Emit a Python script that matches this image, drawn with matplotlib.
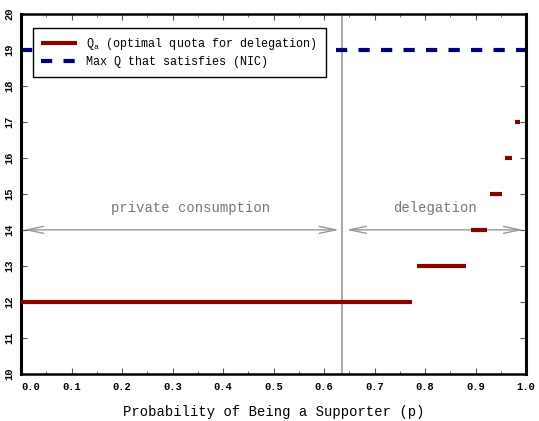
import matplotlib.pyplot as plt
from matplotlib.ticker import MultipleLocator, FixedLocator

plt.rcParams["font.family"] = ["Liberation Mono", "DejaVu Sans Mono"]

# optimal quota steps: (p_start, p_end, quota)
step_start = [0.0, 0.785, 0.890, 0.929, 0.958, 0.979]
step_end = [0.774, 0.882, 0.923, 0.952, 0.972, 0.988]
step_quota = [12, 13, 14, 15, 16, 17]

nic_max_q = 19
p_threshold = 0.636
arrow_y = 14
region_labels = ["private consumption", "delegation"]
region_label_x = [0.335, 0.82]
x_ticks = [0.0, 0.1, 0.2, 0.3, 0.4, 0.5, 0.6, 0.7, 0.8, 0.9, 1.0]
y_ticks = [10, 11, 12, 13, 14, 15, 16, 17, 18, 19, 20]

fig = plt.figure(figsize=(5.39, 4.21), dpi=100)
ax = fig.add_axes([0.039, 0.112, 0.937, 0.855])

red = "#8b0000"
blue = "#00007f"

for i, (a, b, q) in enumerate(zip(step_start, step_end, step_quota)):
    ax.plot([a, b], [q, q], color=red, lw=3, solid_capstyle="butt", zorder=3,
            label=r"Q$_\mathregular{a}$ (optimal quota for delegation)" if i == 0 else None)

ax.plot([0, 1], [nic_max_q, nic_max_q], color=blue, lw=3, dashes=(2.7, 2.7),
        label="Max Q that satisfies (NIC)", zorder=2)

ax.axvline(p_threshold, color="#999999", lw=1.2, zorder=1)

grey = "#999999"
ax.annotate("", xy=(0.005, arrow_y), xytext=(p_threshold - 0.006, arrow_y),
            arrowprops=dict(arrowstyle="<->,head_length=1.2,head_width=0.25",
                            color=grey, lw=1, shrinkA=0, shrinkB=0), zorder=1)
ax.annotate("", xy=(p_threshold + 0.008, arrow_y), xytext=(0.995, arrow_y),
            arrowprops=dict(arrowstyle="<->,head_length=1.2,head_width=0.25",
                            color=grey, lw=1, shrinkA=0, shrinkB=0), zorder=1)
for lx, txt in zip(region_label_x, region_labels):
    ax.text(lx, 14.6, txt, color="#777777", fontsize=10, ha="center", va="center")

ax.set_xlim(0, 1)
ax.set_ylim(10, 20)
ax.xaxis.set_major_locator(FixedLocator(x_ticks))
ax.xaxis.set_minor_locator(MultipleLocator(0.05))
ax.yaxis.set_major_locator(FixedLocator(y_ticks))
ax.tick_params(axis="both", which="both", direction="in", top=True, right=True,
               color="#555555")
ax.tick_params(axis="both", which="major", length=4, labelsize=7.5)
ax.tick_params(axis="x", which="minor", length=2)
ax.tick_params(axis="x", pad=6)
ax.set_xticklabels([f"{v:.1f}" for v in x_ticks], fontweight="bold")
ax.set_yticklabels([f"{v}" for v in y_ticks], rotation=90,
                   va="center", fontweight="bold")
ax.tick_params(axis="y", pad=5)
ax.xaxis.get_major_ticks()[0].label1.set_horizontalalignment("left")

ax.spines["left"].set_linewidth(2.2)
ax.spines["right"].set_linewidth(2.2)
ax.spines["top"].set_linewidth(1.8)
ax.spines["bottom"].set_linewidth(1.8)

ax.set_xlabel("Probability of Being a Supporter (p)", fontsize=10, labelpad=9)

leg = ax.legend(loc="upper left", bbox_to_anchor=(0.024, 0.961), fontsize=8.5,
                frameon=True, fancybox=False, edgecolor="black", framealpha=1,
                handlelength=3, borderpad=0.7, labelspacing=0.35,
                borderaxespad=0)
leg.get_frame().set_linewidth(1)
leg.set_zorder(5)

fig.savefig("out.png", dpi=100)
